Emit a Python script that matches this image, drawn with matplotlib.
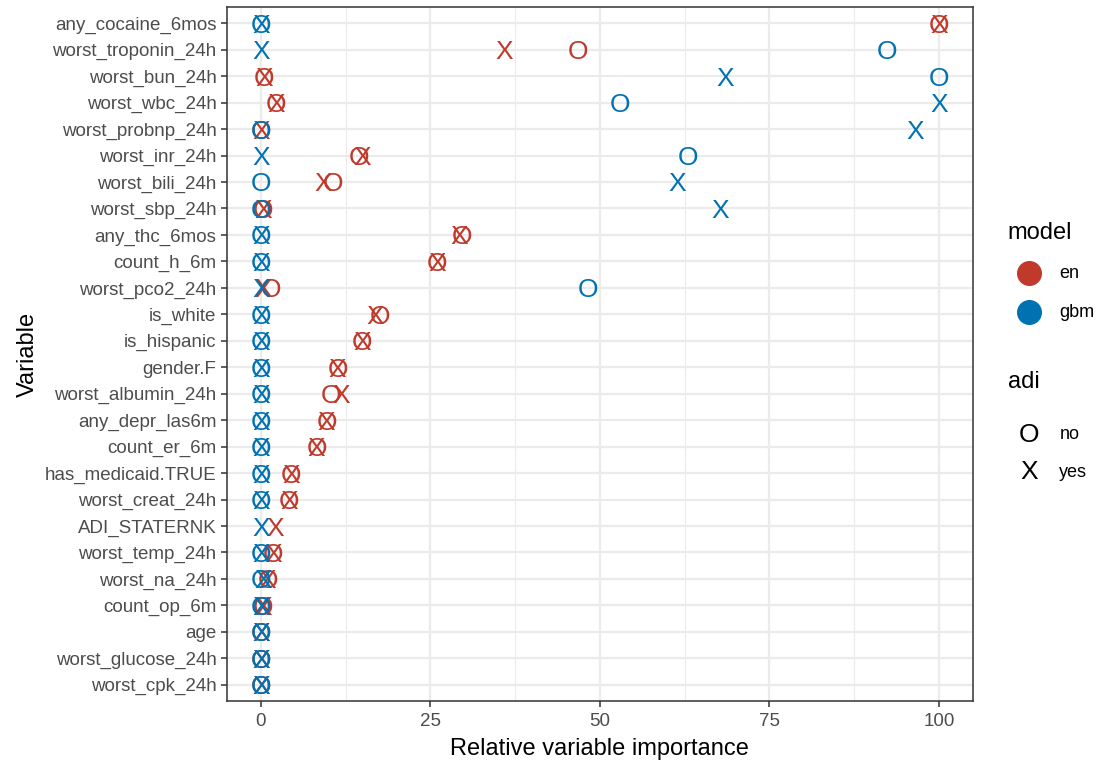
import numpy as np
import matplotlib.pyplot as plt
from matplotlib.lines import Line2D

plt.rcParams['font.family'] = ['Liberation Sans', 'DejaVu Sans']

variables = ['any_cocaine_6mos', 'worst_troponin_24h', 'worst_bun_24h', 'worst_wbc_24h',
             'worst_probnp_24h', 'worst_inr_24h', 'worst_bili_24h', 'worst_sbp_24h',
             'any_thc_6mos', 'count_h_6m', 'worst_pco2_24h', 'is_white', 'is_hispanic',
             'gender.F', 'worst_albumin_24h', 'any_depr_las6m', 'count_er_6m',
             'has_medicaid.TRUE', 'worst_creat_24h', 'ADI_STATERNK', 'worst_temp_24h',
             'worst_na_24h', 'count_op_6m', 'age', 'worst_glucose_24h', 'worst_cpk_24h']

# importance per variable; None = variable not in that model
en_no = [100, 46.7, 0.5, 2.2, 0.0, 14.5, 10.6, 0.3, 29.7, 26.0, 1.5, 17.5, 14.9,
         11.3, 10.3, 9.7, 8.2, 4.4, 4.2, None, 1.8, 1.0, 0.3, 0, 0, 0]
en_yes = [100, 35.9, 0.5, 2.2, 0.1, 15.0, 9.2, 0.3, 29.2, 26.0, 0.4, 16.8, 14.9,
          11.3, 11.8, 9.7, 8.2, 4.4, 4.2, 2.1, 1.8, 1.0, 0.3, 0, 0, 0]
gbm_no = [0, 92.3, 100, 53.0, 0, 63.0, 0, 0, 0, 0, 48.3, 0, 0,
          0, 0, 0, 0, 0, 0, None, 0, 0, 0, 0, 0, 0]
gbm_yes = [0, 0, 68.5, 100, 96.5, 0, 61.4, 67.7, 0, 0, 0, 0, 0,
           0, 0, 0, 0, 0, 0, 0, 0, 0.3, 0, 0, 0, 0]

colors = {'en': '#C0392B', 'gbm': '#0072B2'}
series = [('en', 'O', en_no), ('en', 'X', en_yes), ('gbm', 'O', gbm_no), ('gbm', 'X', gbm_yes)]

fig = plt.figure(figsize=(11, 7.63), dpi=100)
ax = fig.add_axes([0.2064, 0.0817, 0.6779, 0.9087])

ypos = np.arange(len(variables))[::-1]
for model, letter, vals in series:
    for y, v in zip(ypos, vals):
        if v is None:
            continue
        ax.text(v, y, letter, color=colors[model], fontsize=19,
                ha='center', va='center_baseline')

ax.set_xlim(-5, 105)
ax.set_ylim(-0.6, len(variables) - 0.4)
ax.set_xticks([0, 25, 50, 75, 100])
ax.set_xticks([12.5, 37.5, 62.5, 87.5], minor=True)
ax.set_yticks(ypos)
ax.set_yticklabels(variables)
ax.tick_params(axis='y', which='minor', left=False)

ax.grid(True, which='major', color='#EBEBEB', lw=1.6)
ax.grid(True, which='minor', axis='x', color='#EBEBEB', lw=0.8)
ax.set_axisbelow(True)
for s in ax.spines.values():
    s.set_color('#333333')
    s.set_linewidth(1.1)
ax.tick_params(axis='both', which='major', colors='#333333', length=4, width=1.1,
               labelcolor='#4D4D4D', labelsize=13.5)
ax.tick_params(axis='x', which='major', pad=5)
ax.tick_params(axis='x', which='minor', length=0)
ax.set_xlabel('Relative variable importance', fontsize=17, color='black', labelpad=6)
ax.set_ylabel('Variable', fontsize=17, color='black')

# legends
fig.text(0.916, 0.695, 'model', fontsize=17, va='center')
for i, (m, c) in enumerate(colors.items()):
    yy = 0.642 - i * 0.051
    fig.add_artist(Line2D([0.9355], [yy], marker='o', color=c, markersize=17,
                          transform=fig.transFigure))
    fig.text(0.963, yy, m, fontsize=13, va='center')
fig.text(0.916, 0.499, 'adi', fontsize=17, va='center')
for i, (lt, lab) in enumerate([('O', 'no'), ('X', 'yes')]):
    yy = 0.430 - i * 0.049
    fig.text(0.9355, yy, lt, fontsize=19, ha='center', va='center')
    fig.text(0.963, yy, lab, fontsize=13, va='center')

fig.savefig('out.png', dpi=100)
